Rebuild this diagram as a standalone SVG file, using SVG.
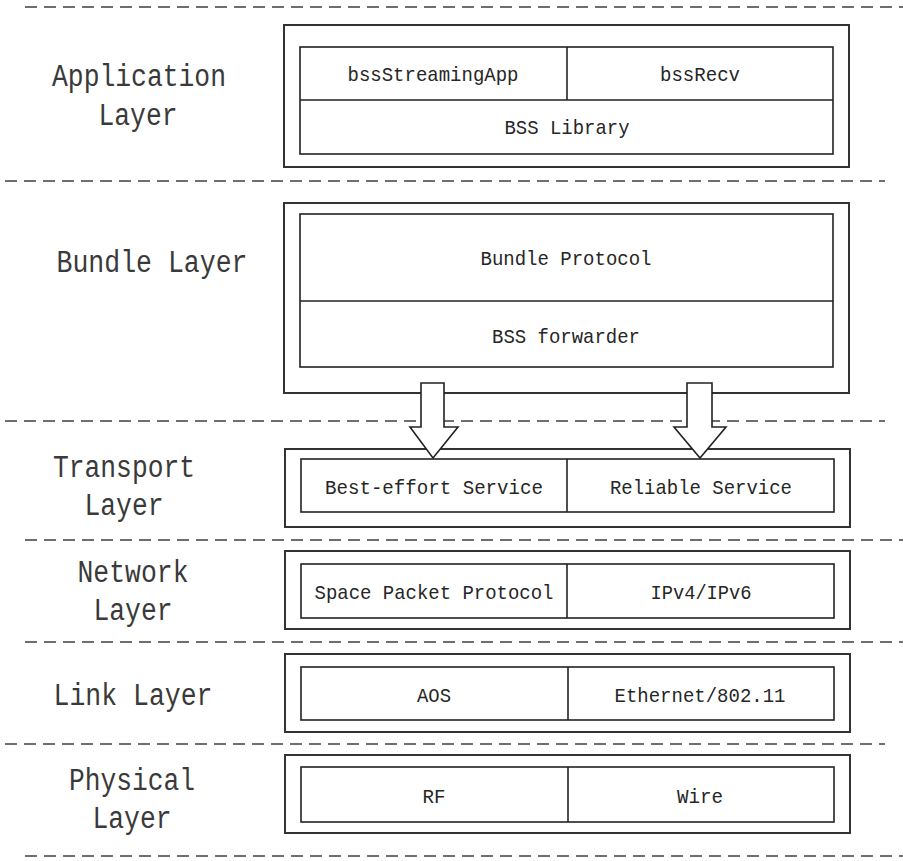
<svg xmlns="http://www.w3.org/2000/svg" width="903" height="861" viewBox="0 0 903 861">
  <style>
    .sep { stroke: #6e6e6e; stroke-width: 2; stroke-dasharray: 12 7; fill: none; }
    .outer { fill: #fff; stroke: #333; stroke-width: 2; }
    .inner { fill: #fff; stroke: #222; stroke-width: 1.6; }
    .div { stroke: #222; stroke-width: 1.6; fill: none; }
    .lbl { font-family: "Liberation Mono", "DejaVu Sans Mono", monospace; font-size: 31px; fill: #3a3a3a; text-anchor: middle; }
    .cell { font-family: "Liberation Mono", "DejaVu Sans Mono", monospace; font-size: 21px; fill: #262626; text-anchor: middle; }
    .arrow { fill: #fff; stroke: #222; stroke-width: 1.6; stroke-linejoin: miter; }
  </style>

  <!-- layer separators -->
  <g id="separators">
    <line class="sep" x1="25" y1="7" x2="903" y2="7"/>
    <line class="sep" x1="5" y1="181" x2="885" y2="181"/>
    <line class="sep" x1="5" y1="421" x2="885" y2="421"/>
    <line class="sep" x1="25" y1="540" x2="903" y2="540"/>
    <line class="sep" x1="25" y1="642" x2="903" y2="642"/>
    <line class="sep" x1="5" y1="744" x2="885" y2="744"/>
    <line class="sep" x1="25" y1="856" x2="903" y2="856"/>
  </g>

  <!-- layer names -->
  <g id="layer-labels">
    <text class="lbl" x="139" y="86" textLength="174" lengthAdjust="spacingAndGlyphs">Application</text>
    <text class="lbl" x="138" y="125" textLength="79" lengthAdjust="spacingAndGlyphs">Layer</text>
    <text class="lbl" x="152" y="272" textLength="191" lengthAdjust="spacingAndGlyphs">Bundle Layer</text>
    <text class="lbl" x="124" y="477" textLength="142" lengthAdjust="spacingAndGlyphs">Transport</text>
    <text class="lbl" x="124" y="515" textLength="79" lengthAdjust="spacingAndGlyphs">Layer</text>
    <text class="lbl" x="133" y="582" textLength="111" lengthAdjust="spacingAndGlyphs">Network</text>
    <text class="lbl" x="133" y="620" textLength="79" lengthAdjust="spacingAndGlyphs">Layer</text>
    <text class="lbl" x="133" y="705" textLength="159" lengthAdjust="spacingAndGlyphs">Link Layer</text>
    <text class="lbl" x="132" y="790" textLength="126" lengthAdjust="spacingAndGlyphs">Physical</text>
    <text class="lbl" x="132" y="828" textLength="79" lengthAdjust="spacingAndGlyphs">Layer</text>
  </g>

  <!-- application layer -->
  <g id="application">
    <rect class="outer" x="284" y="25" width="565" height="142"/>
    <rect class="inner" x="300" y="47" width="533" height="107"/>
    <line class="div" x1="300" y1="100" x2="833" y2="100"/>
    <line class="div" x1="567" y1="47" x2="567" y2="100"/>
    <text class="cell" x="433" y="81" textLength="171" lengthAdjust="spacingAndGlyphs">bssStreamingApp</text>
    <text class="cell" x="700" y="81" textLength="80" lengthAdjust="spacingAndGlyphs">bssRecv</text>
    <text class="cell" x="567" y="134" textLength="125" lengthAdjust="spacingAndGlyphs">BSS Library</text>
  </g>

  <!-- bundle layer -->
  <g id="bundle">
    <rect class="outer" x="284" y="203" width="565" height="190"/>
    <rect class="inner" x="300" y="214" width="533" height="153"/>
    <line class="div" x1="300" y1="301" x2="833" y2="301"/>
    <text class="cell" x="566" y="265" textLength="171" lengthAdjust="spacingAndGlyphs">Bundle Protocol</text>
    <text class="cell" x="566" y="343" textLength="148" lengthAdjust="spacingAndGlyphs">BSS forwarder</text>
  </g>

  <!-- transport layer -->
  <g id="transport">
    <rect class="outer" x="285" y="449" width="565" height="78"/>
    <rect class="inner" x="301" y="459" width="533" height="53"/>
    <line class="div" x1="567" y1="459" x2="567" y2="512"/>
    <text class="cell" x="434" y="494" textLength="218" lengthAdjust="spacingAndGlyphs">Best-effort Service</text>
    <text class="cell" x="701" y="494" textLength="182" lengthAdjust="spacingAndGlyphs">Reliable Service</text>
  </g>

  <!-- network layer -->
  <g id="network">
    <rect class="outer" x="285" y="551" width="565" height="78"/>
    <rect class="inner" x="301" y="564" width="533" height="54"/>
    <line class="div" x1="567" y1="564" x2="567" y2="618"/>
    <text class="cell" x="434" y="599" textLength="239" lengthAdjust="spacingAndGlyphs">Space Packet Protocol</text>
    <text class="cell" x="701" y="599" textLength="101" lengthAdjust="spacingAndGlyphs">IPv4/IPv6</text>
  </g>

  <!-- link layer -->
  <g id="link">
    <rect class="outer" x="285" y="654" width="565" height="78"/>
    <rect class="inner" x="301" y="667" width="533" height="53"/>
    <line class="div" x1="568" y1="667" x2="568" y2="720"/>
    <text class="cell" x="434" y="702" textLength="34" lengthAdjust="spacingAndGlyphs">AOS</text>
    <text class="cell" x="700" y="702" textLength="171" lengthAdjust="spacingAndGlyphs">Ethernet/802.11</text>
  </g>

  <!-- physical layer -->
  <g id="physical">
    <rect class="outer" x="285" y="755" width="565" height="78"/>
    <rect class="inner" x="301" y="767" width="533" height="55"/>
    <line class="div" x1="568" y1="767" x2="568" y2="822"/>
    <text class="cell" x="434" y="803" textLength="23" lengthAdjust="spacingAndGlyphs">RF</text>
    <text class="cell" x="700" y="803" textLength="46" lengthAdjust="spacingAndGlyphs">Wire</text>
  </g>

  <!-- forwarding arrows from the bundle layer down to the transport services -->
  <g id="connectors">
    <path class="arrow" d="M421,383 H444 V427 H458 L433,458 L410,427 H421 Z"/>
    <path class="arrow" d="M687,383 H712 V427 H726 L700,458 L674,427 H687 Z"/>
  </g>
</svg>
